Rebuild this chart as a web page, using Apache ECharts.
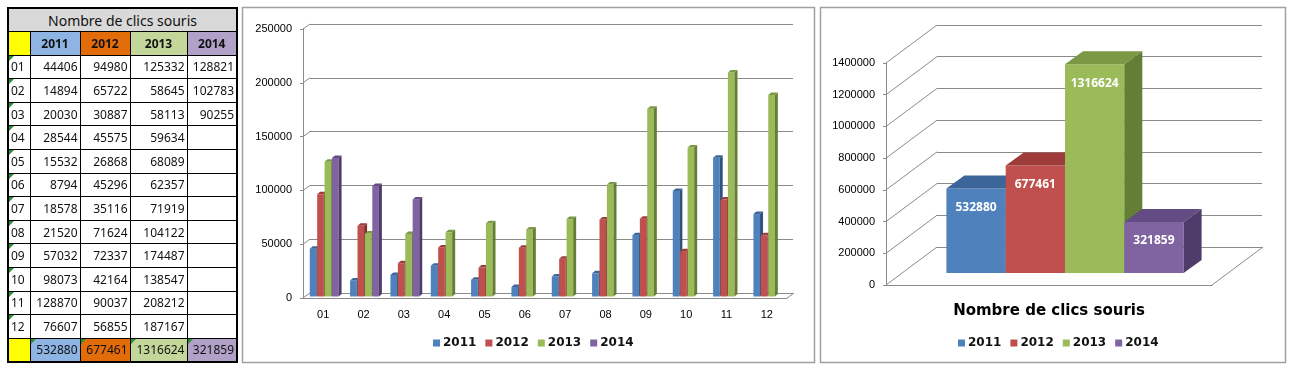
<!DOCTYPE html>
<html>
<head>
<meta charset="utf-8">
<script src="https://cdn.jsdelivr.net/npm/echarts/dist/echarts.min.js"></script>
<style>
  html, body { margin:0; padding:0; background:#fff; width:1293px; height:371px; overflow:hidden; }
  #chart { position:absolute; left:0; top:0; width:1293px; height:371px; }
  #tbl { position:absolute; left:7px; top:7px; z-index:5; }
  table { border-collapse:collapse; table-layout:fixed; border:2px solid #000; font-family:"Noto Sans", "DejaVu Sans", sans-serif; font-size:12px; color:#111; }
  td { border:1px solid #000; padding:0 2px; height:23.6px; box-sizing:border-box; white-space:nowrap; overflow:hidden; position:relative; background:#fff; }
  td.num { text-align:right; }
  td.mon { text-align:left; padding-left:2px; }
  td.hd { text-align:center; font-weight:bold; }
  td.title { text-align:center; background:#d9d9d9; font-size:14px; }
  td.flag::before { content:""; position:absolute; left:0; top:0; border-top:5px solid #2e8b3a; border-right:5px solid transparent; }
</style>
</head>
<body>
<div id="chart"></div>
<div id="tbl"></div>
<script>
const months = ['01','02','03','04','05','06','07','08','09','10','11','12'];
const years = ['2011','2012','2013','2014'];
const clicks2011 = [44406, 14894, 20030, 28544, 15532, 8794, 18578, 21520, 57032, 98073, 128870, 76607];
const clicks2012 = [94980, 65722, 30887, 45575, 26868, 45296, 35116, 71624, 72337, 42164, 90037, 56855];
const clicks2013 = [125332, 58645, 58113, 59634, 68089, 62357, 71919, 104122, 174487, 138547, 208212, 187167];
const clicks2014 = [128821, 102783, 90255, null, null, null, null, null, null, null, null, null];
const totals = [532880, 677461, 1316624, 321859];
const midTicks = [0, 50000, 100000, 150000, 200000, 250000];
const rightTicks = [0, 200000, 400000, 600000, 800000, 1000000, 1200000, 1400000];
const tableTitle = 'Nombre de clics souris';

const seriesData = [clicks2011, clicks2012, clicks2013, clicks2014];
const headColors = ['#8db4e2', '#e26b0a', '#c4d79b', '#b1a0c7'];
const face = ['#4f81bd', '#c0504d', '#9bbb59', '#8064a2'];
const topc = ['#3c6599', '#9d3c3a', '#7b9944', '#634c84'];
const side = ['#30527d', '#803130', '#647f35', '#4f3c6b'];
const gridGray = '#8a8a8a';

// ---- table ----
(function(){
  let h = '<table><colgroup><col style="width:22px"><col style="width:50px"><col style="width:50px"><col style="width:57px"><col style="width:50px"></colgroup>';
  h += '<tr><td class="title" colspan="5">' + tableTitle + '</td></tr>';
  h += '<tr><td style="background:#ffff00"></td>' + years.map((y,i)=>'<td class="hd" style="background:'+headColors[i]+'">'+y+'</td>').join('') + '</tr>';
  months.forEach((m, r) => {
    h += '<tr><td class="mon flag">' + m + '</td>' + seriesData.map(a => '<td class="num">' + (a[r] == null ? '' : a[r]) + '</td>').join('') + '</tr>';
  });
  h += '<tr><td style="background:#ffff00"></td>' + totals.map((t,i)=>'<td class="num flag" style="background:'+headColors[i]+'">'+t+'</td>').join('') + '</tr>';
  h += '</table>';
  document.getElementById('tbl').innerHTML = h;
})();

// ---- charts ----
const chart = echarts.init(document.getElementById('chart'), null, {renderer:'canvas'});
const labelFont = '"Liberation Sans", Arial, sans-serif';
const boldFont = '"DejaVu Sans", "Noto Sans", sans-serif';
const plain = v => String(v);

function wallDiag(dx, dy) {
  return function(params, api) {
    const v = api.value(1);
    const p = api.coord([0, v]);
    const cs = params.coordSys;
    const children = [{type:'line', shape:{x1:cs.x, y1:p[1], x2:cs.x+dx, y2:p[1]+dy}, style:{stroke:gridGray, lineWidth:1}}];
    if (v === 0) {
      children.push({type:'line', shape:{x1:cs.x+cs.width, y1:p[1], x2:cs.x+cs.width+dx, y2:p[1]+dy}, style:{stroke:gridGray, lineWidth:1}});
    }
    return {type:'group', children};
  };
}

function midBar(k) {
  return function(params, api) {
    const v = api.value(1);
    if (v == null || isNaN(v)) return null;
    const c = api.value(0);
    const top = api.coord([c, v]), base = api.coord([c, 0]);
    const w = 6.6, step = 7.4, fy = -1.5, dx = 3, dy = -2.5;
    const cx = base[0] + (k - 1.5) * step + 1;
    const x = cx - w / 2, by = base[1] + fy, ty = top[1] + fy;
    return {type:'group', children:[
      {type:'rect', shape:{x:x, y:ty, width:w, height:by - ty}, style:{fill:face[k]}},
      {type:'polygon', shape:{points:[[x,ty],[x+w,ty],[x+w+dx,ty+dy],[x+dx,ty+dy]]}, style:{fill:topc[k]}},
      {type:'polygon', shape:{points:[[x+w,ty],[x+w+dx,ty+dy],[x+w+dx,by+dy],[x+w,by]]}, style:{fill:side[k]}}
    ]};
  };
}

function rightBar(k) {
  return function(params, api) {
    const v = api.value(1);
    const top = api.coord([0, v]), base = api.coord([0, 0]);
    const w = 59.3, fx = 16, fy = -12, dx = 18, dy = -13;
    const x = base[0] + (k - 2) * w + fx;
    const by = base[1] + fy, ty = top[1] + fy;
    return {type:'group', children:[
      {type:'rect', shape:{x:x, y:ty, width:w, height:by - ty}, style:{fill:face[k]}},
      {type:'polygon', shape:{points:[[x,ty],[x+w,ty],[x+w+dx,ty+dy],[x+dx,ty+dy]]}, style:{fill:topc[k]}},
      {type:'polygon', shape:{points:[[x+w,ty],[x+w+dx,ty+dy],[x+w+dx,by+dy],[x+w,by]]}, style:{fill:side[k]}},
      {type:'text', style:{text:String(v), x:x + w / 2, y:ty + 19, fill:'#fff', font:'bold 12px "Noto Sans", "DejaVu Sans", sans-serif', textAlign:'center', textVerticalAlign:'middle'}}
    ]};
  };
}

const series = [];
series.push({type:'custom', xAxisIndex:0, yAxisIndex:0, z:1, silent:true, clip:false,
  data: midTicks.map(v => [0, v]), renderItem: wallDiag(7, -5)});
years.forEach((y, k) => {
  series.push({name:y, type:'custom', xAxisIndex:0, yAxisIndex:0, z:3, clip:false,
    itemStyle:{color:face[k]},
    data: months.map((m, i) => [i, seriesData[k][i]]),
    renderItem: midBar(k)});
});
series.push({type:'custom', xAxisIndex:2, yAxisIndex:2, z:1, silent:true, clip:false,
  data: rightTicks.map(v => [0, v]), renderItem: wallDiag(51, -38)});
years.forEach((y, k) => {
  series.push({name:y, type:'custom', xAxisIndex:2, yAxisIndex:2, z:3, clip:false,
    itemStyle:{color:face[k]},
    data: [[0, totals[k]]],
    renderItem: rightBar(k)});
});

const hiddenAxis = {axisLine:{show:false}, axisTick:{show:false}, axisLabel:{show:false}};
const legendBase = {data:years, itemWidth:7, itemHeight:7, itemGap:9, icon:'rect', selectedMode:false, padding:0,
  textStyle:{fontSize:12, fontWeight:'bold', color:'#111', fontFamily:boldFont, padding:[0,0,0,-2]}};

chart.setOption({
  animation:false,
  graphic:[
    {type:'rect', shape:{x:242.5, y:7.5, width:572, height:355}, style:{fill:'transparent', stroke:'#a0a0a0', lineWidth:1.5}, z:-10},
    {type:'rect', shape:{x:820.5, y:7.5, width:465, height:355}, style:{fill:'transparent', stroke:'#a0a0a0', lineWidth:1.5}, z:-10}
  ],
  legend:[
    Object.assign({left:433, top:337}, legendBase),
    Object.assign({left:958, top:337}, legendBase)
  ],
  grid:[
    {left:303, top:29, width:484, height:269},
    {left:310, top:24, width:483, height:269},
    {left:886, top:63, width:326, height:222},
    {left:937, top:25, width:325, height:222}
  ],
  xAxis:[
    {gridIndex:0, type:'category', data:months,
     axisLine:{lineStyle:{color:gridGray}}, axisTick:{length:5, lineStyle:{color:gridGray}},
     axisLabel:{margin:11, color:'#000', fontSize:11, fontFamily:labelFont}},
    Object.assign({gridIndex:1, type:'category', data:months}, hiddenAxis),
    {gridIndex:2, type:'category', data:[tableTitle],
     axisLine:{lineStyle:{color:gridGray}}, axisTick:{length:8, lineStyle:{color:gridGray}},
     axisLabel:{margin:19, color:'#000', fontSize:15, fontWeight:'bold', fontFamily:boldFont}},
    Object.assign({gridIndex:3, type:'category', data:[tableTitle]}, hiddenAxis)
  ],
  yAxis:[
    {gridIndex:0, type:'value', min:0, max:250000, interval:50000,
     axisLine:{show:true, lineStyle:{color:gridGray}}, axisTick:{show:true, length:3, lineStyle:{color:gridGray}},
     splitLine:{show:false}, axisLabel:{margin:11, color:'#000', fontSize:11, fontFamily:labelFont, formatter:plain}},
    Object.assign({gridIndex:1, type:'value', min:0, max:250000, interval:50000,
     splitLine:{show:true, lineStyle:{color:gridGray, width:1}}}, hiddenAxis),
    {gridIndex:2, type:'value', min:0, max:1400000, interval:200000,
     axisLine:{show:true, lineStyle:{color:gridGray}}, axisTick:{show:true, length:3, lineStyle:{color:gridGray}},
     splitLine:{show:false}, axisLabel:{margin:11, color:'#000', fontSize:11, fontFamily:labelFont, formatter:plain}},
    Object.assign({gridIndex:3, type:'value', min:0, max:1400000, interval:200000,
     splitLine:{show:true, lineStyle:{color:gridGray, width:1}}}, hiddenAxis)
  ],
  series: series
});
</script>
</body>
</html>
